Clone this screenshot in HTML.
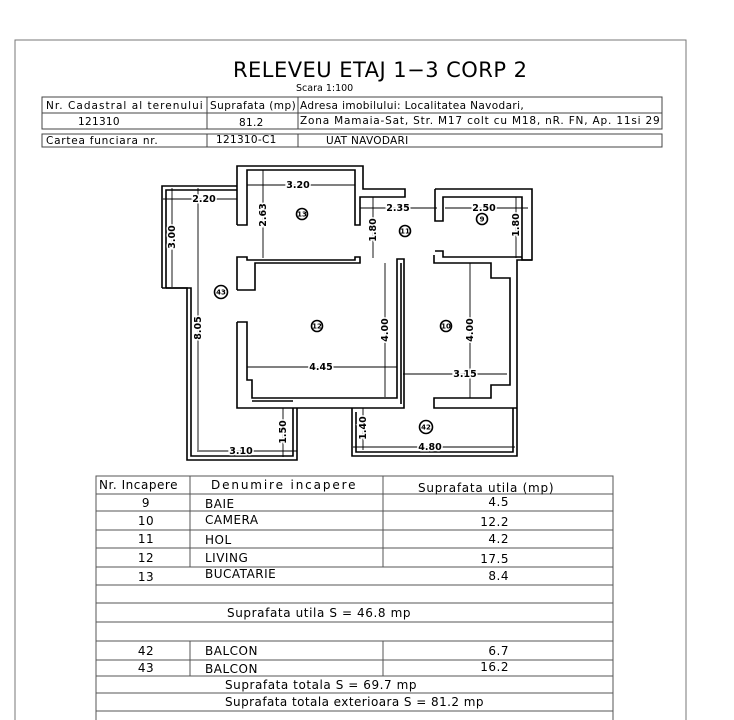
<!DOCTYPE html>
<html><head><meta charset="utf-8"><style>
html,body{margin:0;padding:0;background:#fff}
svg{display:block}
text{font-family:"DejaVu Sans","Liberation Sans",sans-serif;fill:#000}
.t{font-size:10.5px;letter-spacing:0.3px}
.d{font-size:9.5px;font-weight:bold}
.w{fill:none;stroke:#000;stroke-width:1.6}
.dl{stroke:#000;stroke-width:0.9;fill:none}
</style></head><body>
<svg width="734" height="720" viewBox="0 0 734 720" xmlns="http://www.w3.org/2000/svg">
<rect x="15" y="40" width="671" height="700" fill="none" stroke="#777" stroke-width="1"/>
<text x="233" y="77" font-size="21" textLength="294" lengthAdjust="spacing">RELEVEU ETAJ 1−3 CORP 2</text>
<text x="296" y="91" font-size="9.5">Scara 1:100</text>
<g fill="none" stroke="#444" stroke-width="1">
<rect x="42" y="97" width="620" height="32"/>
<line x1="42" y1="113" x2="662" y2="113"/>
<line x1="207" y1="97" x2="207" y2="129"/><line x1="298" y1="97" x2="298" y2="129"/>
<rect x="42" y="134" width="620" height="13"/>
<line x1="207" y1="134" x2="207" y2="147"/><line x1="298" y1="134" x2="298" y2="147"/>
</g>
<g class="t">
<text x="46" y="109" textLength="157">Nr. Cadastral al terenului</text>
<text x="210" y="109" textLength="86">Suprafata (mp)</text>
<text x="300" y="109" textLength="224">Adresa imobilului: Localitatea Navodari,</text>
<text x="78" y="125">121310</text>
<text x="239" y="126">81.2</text>
<text x="300" y="124" textLength="360">Zona Mamaia-Sat, Str. M17 colt cu M18, nR. FN, Ap. 11si 29</text>
<text x="46" y="144" textLength="112">Cartea funciara nr.</text>
<text x="216" y="143">121310-C1</text>
<text x="326" y="144">UAT NAVODARI</text>
</g>
<g class="w">
<polyline points="162,288 162,186 237,186"/>
<polyline points="166,288 166,190 237,190"/>
<polyline points="162,288 187,288 187,460 297,460 297,408"/>
<polyline points="166,288 191,288 191,456 293,456 293,408"/>
<polyline points="237,225 237,166 363,166 363,189 405,189 405,197 360,197 360,225 355,225 355,170 247,170 247,225 237,225"/>
<polyline points="435,189 532,189 532,260 522,260 522,197 443,197 443,221 435,221 435,189"/>
<polyline points="435,251 443,251 443,257 522,257"/>
<polyline points="532,260 517,260 517,408"/>
<polyline points="237,290 237,257 247,257 247,260 355,260 355,257 360,257 360,263 255,263 255,290 237,290"/>
<polyline points="237,322 247,322 247,380 252,380 252,398 397,398 397,259 404,259 404,408 237,408 237,322"/>
<line x1="401" y1="263" x2="401" y2="404"/>
<polyline points="434,255 434,263 491,263 491,278 510,278 510,385 491,385 491,398 434,398 434,408 517,408"/>
<polyline points="352,408 352,456 517,456 517,408"/>
<polyline points="356,412 356,452 513,452 513,408"/>
<line x1="252" y1="401" x2="293" y2="401"/>
</g>
<g class="dl">
<line x1="247" y1="185" x2="355" y2="185"/>
<line x1="163" y1="199" x2="237" y2="199"/>
<line x1="172" y1="188" x2="172" y2="287"/>
<line x1="263" y1="170" x2="263" y2="258"/>
<line x1="373" y1="197" x2="373" y2="258"/>
<line x1="360" y1="208" x2="437" y2="208"/>
<line x1="445" y1="208" x2="528" y2="208"/>
<line x1="516" y1="197" x2="516" y2="258"/>
<line x1="198" y1="188" x2="198" y2="450"/>
<line x1="385" y1="263" x2="385" y2="397"/>
<line x1="470" y1="263" x2="470" y2="398"/>
<line x1="247" y1="367" x2="397" y2="367"/>
<line x1="403" y1="374" x2="507" y2="374"/>
<line x1="283" y1="408" x2="283" y2="457"/>
<line x1="363" y1="408" x2="363" y2="450"/>
<line x1="197" y1="451" x2="297" y2="451"/>
<line x1="353" y1="447" x2="515" y2="447"/>
</g>
<g class="d" text-anchor="middle">
<text x="298" y="188" stroke="#fff" stroke-width="3" paint-order="stroke">3.20</text>
<text x="204" y="202" stroke="#fff" stroke-width="3" paint-order="stroke">2.20</text>
<text x="398" y="211" stroke="#fff" stroke-width="3" paint-order="stroke">2.35</text>
<text x="484" y="211" stroke="#fff" stroke-width="3" paint-order="stroke">2.50</text>
<text x="321" y="370" stroke="#fff" stroke-width="3" paint-order="stroke">4.45</text>
<text x="465" y="377" stroke="#fff" stroke-width="3" paint-order="stroke">3.15</text>
<text x="241" y="454" stroke="#fff" stroke-width="3" paint-order="stroke">3.10</text>
<text x="430" y="450" stroke="#fff" stroke-width="3" paint-order="stroke">4.80</text>
<text transform="translate(175,237) rotate(-90)" stroke="#fff" stroke-width="3" paint-order="stroke">3.00</text>
<text transform="translate(266,215) rotate(-90)" stroke="#fff" stroke-width="3" paint-order="stroke">2.63</text>
<text transform="translate(376,230) rotate(-90)" stroke="#fff" stroke-width="3" paint-order="stroke">1.80</text>
<text transform="translate(519,225) rotate(-90)" stroke="#fff" stroke-width="3" paint-order="stroke">1.80</text>
<text transform="translate(201,328) rotate(-90)" stroke="#fff" stroke-width="3" paint-order="stroke">8.05</text>
<text transform="translate(388,330) rotate(-90)" stroke="#fff" stroke-width="3" paint-order="stroke">4.00</text>
<text transform="translate(473,330) rotate(-90)" stroke="#fff" stroke-width="3" paint-order="stroke">4.00</text>
<text transform="translate(286,432) rotate(-90)" stroke="#fff" stroke-width="3" paint-order="stroke">1.50</text>
<text transform="translate(366,428) rotate(-90)" stroke="#fff" stroke-width="3" paint-order="stroke">1.40</text>
</g>
<g fill="none" stroke="#000" stroke-width="1.6">
<circle cx="302" cy="214" r="5.5"/><circle cx="405" cy="231" r="5.5"/><circle cx="482" cy="219" r="5.5"/>
<circle cx="221" cy="292" r="6.5"/><circle cx="317" cy="326" r="5.5"/><circle cx="446" cy="326" r="5.5"/><circle cx="426" cy="427" r="6.5"/>
</g>
<g font-size="7" text-anchor="middle" font-weight="bold">
<text x="302" y="216.5">13</text><text x="405" y="233.5">11</text><text x="482" y="221.5">9</text>
<text x="221" y="294.5">43</text><text x="317" y="328.5">12</text><text x="446" y="328.5">10</text><text x="426" y="429.5">42</text>
</g>
<g stroke="#555" stroke-width="1" fill="none">
<polyline points="96,740 96,476 613,476 613,740"/>
<line x1="96" y1="494" x2="613" y2="494"/><line x1="96" y1="511" x2="613" y2="511"/>
<line x1="96" y1="530" x2="613" y2="530"/><line x1="96" y1="548" x2="613" y2="548"/>
<line x1="96" y1="567" x2="613" y2="567"/><line x1="96" y1="585" x2="613" y2="585"/>
<line x1="96" y1="603" x2="613" y2="603"/><line x1="96" y1="622" x2="613" y2="622"/>
<line x1="96" y1="641" x2="613" y2="641"/><line x1="96" y1="660" x2="613" y2="660"/>
<line x1="96" y1="676" x2="613" y2="676"/><line x1="96" y1="693" x2="613" y2="693"/>
<line x1="96" y1="711" x2="613" y2="711"/>
<line x1="190" y1="476" x2="190" y2="567"/><line x1="383" y1="476" x2="383" y2="567"/>
<line x1="190" y1="641" x2="190" y2="676"/><line x1="383" y1="641" x2="383" y2="676"/>
</g>
<g class="t" style="font-size:12px;letter-spacing:0.5px">
<text x="99" y="489" textLength="79">Nr. Incapere</text>
<text x="211" y="489" textLength="145">Denumire incapere</text>
<text x="418" y="492" textLength="136">Suprafata utila (mp)</text>
<text x="146" y="507" text-anchor="middle">9</text><text x="205" y="508">BAIE</text><text x="509" y="506" text-anchor="end">4.5</text>
<text x="146" y="525" text-anchor="middle">10</text><text x="205" y="524">CAMERA</text><text x="509" y="526" text-anchor="end">12.2</text>
<text x="146" y="543" text-anchor="middle">11</text><text x="205" y="544">HOL</text><text x="509" y="543" text-anchor="end">4.2</text>
<text x="146" y="562" text-anchor="middle">12</text><text x="205" y="562">LIVING</text><text x="509" y="563" text-anchor="end">17.5</text>
<text x="146" y="581" text-anchor="middle">13</text><text x="205" y="578">BUCATARIE</text><text x="509" y="580" text-anchor="end">8.4</text>
<text x="227" y="617" textLength="184">Suprafata utila S = 46.8 mp</text>
<text x="146" y="655" text-anchor="middle">42</text><text x="205" y="655">BALCON</text><text x="509" y="655" text-anchor="end">6.7</text>
<text x="146" y="672" text-anchor="middle">43</text><text x="205" y="673">BALCON</text><text x="509" y="671" text-anchor="end">16.2</text>
<text x="225" y="689" textLength="192">Suprafata totala S = 69.7 mp</text>
<text x="225" y="706" textLength="259">Suprafata totala exterioara S = 81.2 mp</text>
</g>
</svg>
</body></html>
